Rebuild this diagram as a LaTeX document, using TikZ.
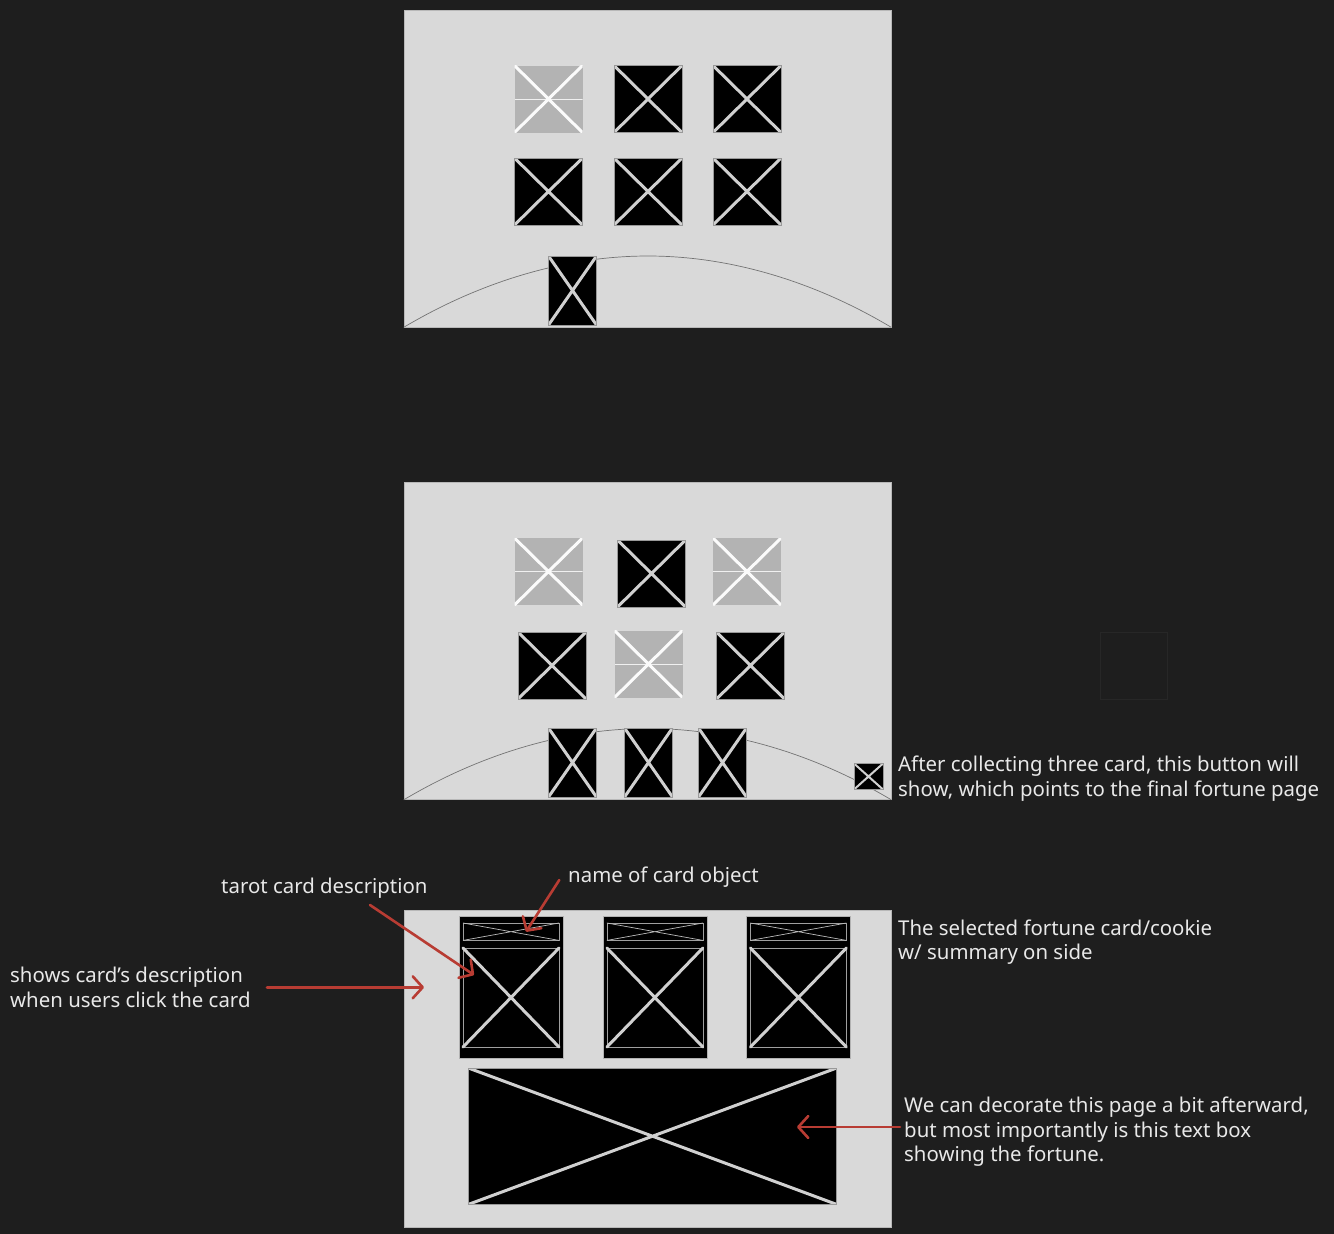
\documentclass[tikz,border=0pt]{standalone}
\usepackage{fontspec}
\setmainfont{Noto Sans}
\usetikzlibrary{arrows.meta}
\definecolor{bg}{HTML}{1E1E1E}
\definecolor{pagegray}{HTML}{D9D9D9}
\definecolor{shade}{HTML}{B3B3B3}
\definecolor{xgray}{HTML}{D0D0D0}
\definecolor{redpen}{HTML}{B83C33}
\definecolor{ink}{HTML}{E8E8E8}
\tikzset{
  page/.style={fill=pagegray, draw=pagegray!85!black, line width=0.6,
    minimum width=487, minimum height=317, inner sep=0},
  darkcard/.style={draw=gray!80, fill=black, inner sep=0, line width=0.6,
    path picture={\draw[xgray, line width=#1]
      (path picture bounding box.north west) -- (path picture bounding box.south east)
      (path picture bounding box.south west) -- (path picture bounding box.north east);}},
  darkcard/.default=3,
  lightcard/.style={fill=shade, inner sep=0,
    path picture={
      \draw[white!80!shade, line width=0.8]
        (path picture bounding box.west) -- (path picture bounding box.east);
      \draw[white!95!shade, line width=3]
        (path picture bounding box.north west) -- (path picture bounding box.south east)
        (path picture bounding box.south west) -- (path picture bounding box.north east);}},
  sq/.style={minimum width=68, minimum height=67},
  tall/.style={minimum width=48, minimum height=69},
  arcline/.style={draw=gray!90!black, line width=0.7},
  thinline/.style={draw=gray!75, line width=0.7},
  pointer/.style={redpen, line width=2.6, line cap=round,
    -{Straight Barb[length=10pt,width=22pt,round]}},
  notetext/.style={ink, anchor=base west, inner sep=0, align=left,
    font=\fontsize{20.4}{24.5}\selectfont}
}
\begin{document}
\begin{tikzpicture}[x=1pt,y=-1pt]
  \fill[bg] (0,0) rectangle (1334,1234);
  \useasboundingbox (0,0) rectangle (1334,1234);

  % first screen: six cards on the table
  \node[page] (f1) at (647.5,168.5) {};
  \draw[arcline] (f1.south west) parabola bend (648,256) (f1.south east);
  \node[lightcard,sq] (a1) at (548.5,99) {};
  \node[darkcard,sq] (a2) at (648,99) {};
  \node[darkcard,sq] (a3) at (747,99) {};
  \foreach \cx [count=\i from 4] in {548.5,648,747}
    \node[darkcard,sq] (a\i) at (\cx,191.5) {};
  \node[darkcard,tall] (pick1) at (572.5,290.5) {};

  % second screen: three cards picked
  \node[page] (f2) at (647.5,641) {};
  \draw[arcline] (f2.south west) parabola bend (648,728.5) (f2.south east);
  \node[lightcard,sq] (b1) at (548.5,571.5) {};
  \node[darkcard,sq] (b2) at (651.5,573.5) {};
  \node[lightcard,sq] (b3) at (747,571.5) {};
  \node[darkcard,sq] (b4) at (552,665.5) {};
  \node[lightcard,sq] (b5) at (648.5,664) {};
  \node[darkcard,sq] (b6) at (750.5,665.5) {};
  \foreach \cx [count=\i] in {572.5,648.5,722.5}
    \node[darkcard,tall] (pick\i b) at (\cx,762.5) {};
  \node[darkcard=2,minimum width=29,minimum height=26] (nextbtn) at (868.5,776.5) {};
  \node[draw=bg!96!white, line width=0.6, minimum size=67, inner sep=0] (ghost) at (1133.5,665.5) {};
  \node[notetext] (btnnote) at (898,796.2)
    {After collecting three card, this button will\\show, which points to the final fortune page};

  % third screen: the fortune
  \node[page] (f3) at (647.5,1068.5) {};
  \foreach \cx [count=\i] in {511.3,655.2,798.7}{
    \node[fill=black, draw=gray!60, line width=0.6, minimum width=104,
      minimum height=141.6, inner sep=0] (fc\i) at (\cx,987.5) {};
    \begin{scope}[shift={(fc\i.north west)}]
      \draw[thinline] (4,6.6) rectangle (100,24);
      \draw[thinline, draw=xgray!90!black] (4,6.6) -- (100,24) (4,24) -- (100,6.6);
      \draw[thinline] (4,31.6) rectangle (100,130.6);
      \draw[xgray, line width=3, line cap=round] (4,31.6) -- (100,130.6)
        (4,130.6) -- (100,31.6);
    \end{scope}
  }
  \node[darkcard, minimum width=368, minimum height=136.3] (fortunebox) at (652.5,1136.2) {};

  \node[notetext] (tarotnote) at (221,893) {tarot card description};
  \node[notetext] (namenote) at (568,882.7) {name of card object};
  \node[notetext] (shownote) at (10,1007.2) {shows card’s description\\when users click the card};
  \node[notetext] (cardnote) at (898,959.5) {The selected fortune card/cookie\\w/ summary on side};
  \node[notetext] (fortunenote) at (904,1161.7)
    {We can decorate this page a bit afterward,\\but most importantly is this text box\\showing the fortune.};

  \coordinate (tarotfrom) at (370,905);
  \coordinate (tarotto) at (474,975);
  \coordinate (namefrom) at (559.3,880);
  \coordinate (nameto) at (526,931.7);
  \coordinate (showfrom) at (267,987.3);
  \coordinate (showto) at (424,987.3);
  \coordinate (fortunefrom) at (900,1127);
  \coordinate (fortuneto) at (797,1127);
  \draw[pointer] (tarotfrom) -- (tarotto);
  \draw[pointer] (namefrom) -- (nameto);
  \draw[pointer] (showfrom) -- (showto);
  \draw[pointer] (fortunefrom) -- (fortuneto);
\end{tikzpicture}
\end{document}
